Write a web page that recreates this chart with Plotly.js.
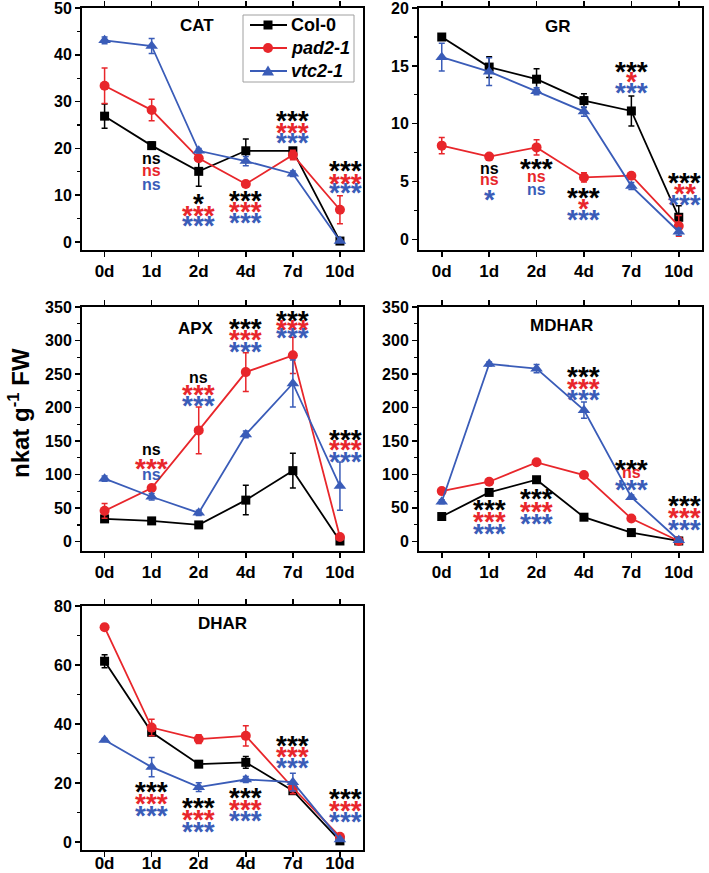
<!DOCTYPE html>
<html><head><meta charset="utf-8">
<script src="https://cdn.plot.ly/plotly-3.0.1.min.js"></script>
<style>html,body{margin:0;padding:0;background:#fff;}#chart{width:709px;height:873px;}</style>
</head><body><div id="chart"></div>
<script>
// ---------------- data ----------------
const days = ['0d','1d','2d','4d','7d','10d'];
const seriesNames = ['Col-0','pad2-1','vtc2-1'];

const catCol = [26.9, 20.6, 15.1, 19.5, 19.5, 0.2];
const catColErr = [2.6, 0.8, 3.2, 2.5, 0.5, 0.2];
const catPad = [33.4, 28.2, 17.9, 12.4, 18.6, 6.9];
const catPadErr = [3.8, 2.3, 0.6, 0.6, 1.0, 3.0];
const catVtc = [43.1, 41.9, 19.5, 17.3, 14.6, 0.2];
const catVtcErr = [0.7, 1.6, 0.5, 1.0, 0.6, 0.2];

const grCol = [17.5, 14.9, 13.85, 12.0, 11.1, 1.9];
const grColErr = [0.2, 0.9, 0.9, 0.6, 1.3, 1.0];
const grPad = [8.1, 7.15, 7.95, 5.35, 5.5, 1.15];
const grPadErr = [0.7, 0.2, 0.65, 0.4, 0.2, 0.9];
const grVtc = [15.75, 14.5, 12.8, 11.05, 4.6, 0.65];
const grVtcErr = [1.2, 1.2, 0.3, 0.4, 0.3, 0.3];

const apxCol = [34, 31, 25, 62, 106, 1];
const apxColErr = [4, 3, 4, 22, 26, 2];
const apxPad = [46, 80, 166, 253, 278, 7];
const apxPadErr = [11, 4, 35, 29, 27, 3];
const apxVtc = [94, 67, 43, 160, 236, 83];
const apxVtcErr = [4, 5, 4, 5, 35, 36];

const mdCol = [37, 73, 92, 36, 13, 0.5];
const mdColErr = [2, 3, 3, 2, 2, 0.5];
const mdPad = [75, 89, 118, 99, 34, 0.5];
const mdPadErr = [2, 2, 3, 3, 2, 0.5];
const mdVtc = [59, 265, 258, 196, 66, 1.5];
const mdVtcErr = [3, 3, 6, 12, 3, 1];

const dhCol = [61.3, 37.2, 26.4, 27.0, 17.4, 0.4];
const dhColErr = [2.2, 1.0, 0.8, 2.0, 1.0, 0.3];
const dhPad = [72.8, 38.8, 34.9, 36.0, 18.4, 1.8];
const dhPadErr = [1.0, 2.8, 1.5, 3.4, 2.0, 0.5];
const dhVtc = [34.6, 25.4, 18.6, 21.2, 20.3, 0.9];
const dhVtcErr = [0.5, 3.3, 1.5, 1.0, 3.0, 0.3];

// significance labels for 1d,2d,4d,7d,10d (rows: Col-0, pad2-1, vtc2-1)
const sigCAT = [['ns','ns','ns'],['*','***','***'],['***','***','***'],['***','***','***'],['***','***','***']];
const sigGR = [['ns','ns','*'],['***','ns','ns'],['***','*','***'],['***','*','***'],['***','**','***']];
const sigAPX = [['ns','***','ns'],['ns','***','***'],['***','***','***'],['***','***','***'],['***','***','***']];
const sigMDHAR = [['***','***','***'],['***','***','***'],['***','***','***'],['***','ns','***'],['***','***','***']];
const sigDHAR = [['***','***','***'],['***','***','***'],['***','***','***'],['***','***','***'],['***','***','***']];

// ---------------- layout helpers ----------------
const W = 709, H = 873;
const px = v => v / W, py = v => 1 - v / H;
const FONT = 'Liberation Sans, Arial, sans-serif';
const BLACK = '#000000', RED = '#e8262b', BLUE = '#3a5cb8';
const colors = [BLACK, RED, BLUE];
const symbols = ['square', 'circle', 'triangle-up'];
const msizes = [9, 10, 11];

// panel boxes in pixels [left, right, top, bottom]
const panels = [
  {name:'CAT', box:[82,363,8,250], yr:[-1.71,50.02], dt:10, mdt:5, data:[[catCol,catColErr],[catPad,catPadErr],[catVtc,catVtcErr]], sig:sigCAT, title:[197,25],
   sigY:[[157,170,183],[197,209,220],[195,205,216],[115,126,137],[165,177,186]]},
  {name:'GR', box:[419,702,8,250], yr:[-0.93,20.01], dt:5, mdt:2.5, data:[[grCol,grColErr],[grPad,grPadErr],[grVtc,grVtcErr]], sig:sigGR, title:[558,26],
   sigY:[[168,179,194],[163,176,188],[192,202,213],[65,75,87],[176,187,198]]},
  {name:'APX', box:[82,363,307,551], yr:[-13.9,350.1], dt:50, mdt:25, data:[[apxCol,apxColErr],[apxPad,apxPadErr],[apxVtc,apxVtcErr]], sig:sigAPX, title:[196,328],
   sigY:[[449,462,474],[376,389,399],[322,334,345],[314,323,332],[433,444,455]]},
  {name:'MDHAR', box:[419,702,307,551], yr:[-14.5,350.1], dt:50, mdt:25, data:[[mdCol,mdColErr],[mdPad,mdPadErr],[mdVtc,mdVtcErr]], sig:sigMDHAR, title:[561,325],
   sigY:[[503,515,527],[492,505,517],[370,382,394],[463,472,483],[499,511,523]]},
  {name:'DHAR', box:[82,363,606,850], yr:[-2.7,80.02], dt:20, mdt:10, data:[[dhCol,dhColErr],[dhPad,dhPadErr],[dhVtc,dhVtcErr]], sig:sigDHAR, title:[222,623],
   sigY:[[785,797,809],[801,813,825],[791,803,814],[739,750,761],[792,804,815]], xstand:-8}
];

const traces = [];
const layout = {
  width: W, height: H,
  margin: {l:0, r:0, t:0, b:0},
  paper_bgcolor: '#fff', plot_bgcolor: '#fff',
  showlegend: false,
  annotations: [],
  shapes: []
};

const NP = panels.length;
panels.forEach((p, i) => {
  const k = i + 1;
  const xs = k === 1 ? '' : String(k);
  const os = String(k + NP); // overlay axis suffix
  const [l, r, t, b] = p.box;
  layout['xaxis' + xs] = {
    domain:[px(l), px(r)], anchor:'y' + xs, type:'category', range:[-0.48, 5.49],
    showline:true, linewidth:2, linecolor:'#000', mirror:'allticks',
    ticks:'outside', ticklen:5, tickwidth:1.5, tickcolor:'#000',
    ticklabelstandoff: p.xstand || 0,
    showgrid:false, zeroline:false,
    tickfont:{family:FONT, size:17, color:'#000', weight:'bold'}
  };
  layout['yaxis' + xs] = {
    domain:[py(b), py(t)], anchor:'x' + xs, range:p.yr, dtick:p.dt, tick0:0,
    showline:true, linewidth:2, linecolor:'#000', mirror:true,
    ticks:'outside', ticklen:5, tickwidth:1.5, tickcolor:'#000',
    ticklabeloverflow:'allow',
    minor:{ticks:'outside', ticklen:3, dtick:p.mdt, tick0:0, tickwidth:1.2, tickcolor:'#000', showgrid:false},
    showgrid:false, zeroline:false,
    tickfont:{family:FONT, size:16, color:'#000', weight:'bold'}
  };
  // overlay axes: inside ticks on right side and on top (to make crossing ticks)
  layout['yaxis' + os] = {
    overlaying:'y' + xs, side:'right', anchor:'x' + xs, range:p.yr, dtick:p.dt, tick0:0,
    showline:false, ticks:'inside', ticklen:5, tickwidth:1.5, tickcolor:'#000',
    minor:{ticks:'inside', ticklen:3, dtick:p.mdt, tick0:0, tickwidth:1.2, tickcolor:'#000', showgrid:false},
    showticklabels:false, showgrid:false, zeroline:false
  };
  layout['xaxis' + os] = {
    overlaying:'x' + xs, side:'top', anchor:'y' + xs, range:[-0.48, 5.49],
    tickvals:[0,1,2,3,4,5], showline:false, ticks:'inside', ticklen:5, tickwidth:1.5, tickcolor:'#000',
    showticklabels:false, showgrid:false, zeroline:false
  };
  p.data.forEach((d, s) => {
    traces.push({
      x: days, y: d[0], name: seriesNames[s], showlegend:false,
      xaxis:'x' + xs, yaxis:'y' + xs, mode:'lines+markers', cliponaxis:false,
      line:{color:colors[s], width:1.8},
      marker:{symbol:symbols[s], size:msizes[s], color:colors[s]},
      error_y:{type:'data', array:d[1], visible:true, color:colors[s], thickness:1.5, width:3}
    });
  });
  // panel title
  layout.annotations.push({xref:'paper', yref:'paper', x:px(p.title[0]), y:py(p.title[1]),
    xanchor:'center', yanchor:'middle', showarrow:false, text:p.name,
    font:{family:FONT, size:17, color:'#000', weight:'bold'}});
  // significance labels
  p.sig.forEach((col, j) => {
    col.forEach((txt, row) => {
      const star = txt.indexOf('*') >= 0;
      const yy = p.sigY[j][row] + (star ? 6 : 1);
      layout.annotations.push({
        xref:'x' + xs, yref:'paper', x:j + 1, y:py(yy), xshift: j === 4 ? 6 : 0,
        xanchor:'center', yanchor:'middle', showarrow:false, text:txt,
        font:{family:FONT, size: star ? 28 : 16, color:colors[row], weight:'bold'}
      });
    });
  });
});

// ---------------- legend (drawn in the CAT panel) ----------------
const legBox = [243, 354, 15, 82];
layout.shapes.push({type:'rect', xref:'paper', yref:'paper', x0:px(legBox[0]), x1:px(legBox[1]), y0:py(legBox[3]), y1:py(legBox[2]),
  line:{color:'#a0a0a0', width:1}, fillcolor:'#ffffff', layer:'above'});
const legRows = [25, 48, 71];
seriesNames.forEach((nm, s) => {
  const yy = legRows[s];
  layout.shapes.push({type:'line', xref:'paper', yref:'paper', x0:px(250), x1:px(287), y0:py(yy), y1:py(yy),
    line:{color:colors[s], width:1.8}, layer:'above'});
  const cx = 268;
  if (s === 0) {
    layout.shapes.push({type:'rect', xref:'paper', yref:'paper', x0:px(cx-4.5), x1:px(cx+4.5), y0:py(yy+4.5), y1:py(yy-4.5),
      line:{width:0}, fillcolor:colors[s], layer:'above'});
  } else if (s === 1) {
    layout.shapes.push({type:'circle', xref:'paper', yref:'paper', x0:px(cx-5), x1:px(cx+5), y0:py(yy+5), y1:py(yy-5),
      line:{width:0}, fillcolor:colors[s], layer:'above'});
  } else {
    layout.shapes.push({type:'path', xref:'paper', yref:'paper',
      path:`M ${px(cx-6)} ${py(yy+4.5)} L ${px(cx+6)} ${py(yy+4.5)} L ${px(cx)} ${py(yy-5.5)} Z`,
      line:{width:0}, fillcolor:colors[s], layer:'above'});
  }
  layout.annotations.push({xref:'paper', yref:'paper', x:px(289), y:py(yy), xanchor:'left', yanchor:'middle',
    showarrow:false, text: s === 0 ? nm : '<i>' + nm + '</i>',
    font:{family:FONT, size:18, color:'#000', weight:'bold'}});
});

// y-axis title
layout.annotations.push({xref:'paper', yref:'paper', x:px(19), y:py(413), xanchor:'center', yanchor:'middle',
  showarrow:false, textangle:-90, text:'nkat g<sup>-1</sup> FW',
  font:{family:FONT, size:24, color:'#000', weight:'bold'}});

Plotly.newPlot('chart', traces, layout, {staticPlot:true, displayModeBar:false});
</script></body></html>
